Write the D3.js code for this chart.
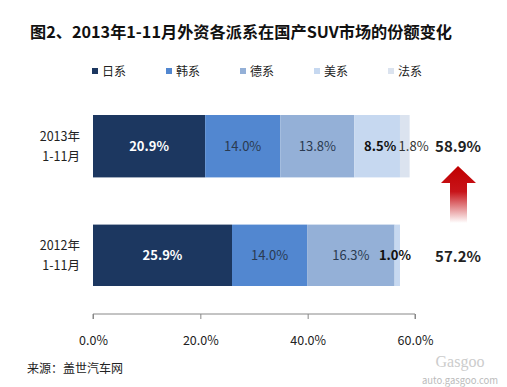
<!DOCTYPE html>
<html><head><meta charset="utf-8">
<script src="https://cdn.jsdelivr.net/npm/d3@7/dist/d3.min.js"></script>
<style>body{margin:0;background:#fff}svg{display:block}</style>
</head><body>
<script>
const title = "图2、2013年1-11月外资各派系在国产SUV市场的份额变化";
const series = ["日系","韩系","德系","美系","法系"];
const colors = ["#1c3760","#5287d0","#94b0d7","#c6d8f0","#dbe3ef"];
const categories = [["2013年","1-11月"],["2012年","1-11月"]];
const values2013 = [20.9,14.0,13.8,8.5,1.8];
const values2012 = [25.9,14.0,16.3,1.0,0];
const labels2013 = ["20.9%","14.0%","13.8%","8.5%","1.8%"];
const labels2012 = ["25.9%","14.0%","16.3%","1.0%",""];
const totals = ["58.9%","57.2%"];
const ticks = [0,20,40,60];
const source = "来源：盖世汽车网";

const W=507,H=387;
const svg=d3.select("body").append("svg").attr("width",W).attr("height",H);
const font="'Noto Sans CJK SC','Noto Sans',sans-serif";
svg.style("font-family",font);

const x=d3.scaleLinear().domain([0,60]).range([93,415]);
const y=d3.scaleBand().domain([0,1]).range([113,283]).paddingInner(0.42).paddingOuter(0);

svg.append("text").attr("x",30).attr("y",38).attr("font-size",16.2).attr("font-weight","bold").attr("fill","#111").text(title);

// legend
const lg=svg.append("g");
series.forEach((s,i)=>{
  const lx=92+i*74;
  lg.append("rect").attr("x",lx).attr("y",68).attr("width",6).attr("height",6).attr("fill",colors[i]);
  lg.append("text").attr("x",lx+10).attr("y",76).attr("font-size",12).attr("fill","#222").text(s);
});

const rows=[{v:values2013,l:labels2013},{v:values2012,l:labels2012}];
const labelStyle=[
  {fill:"#fff",w:"bold"},{fill:"#2a3a50",w:"normal"},{fill:"#2a3a50",w:"normal"},{fill:"#111",w:"bold"},{fill:"#333",w:"normal"}
];
rows.forEach((r,ri)=>{
  let cum=0;
  const by=y(ri)+ (ri===0?2:4), bh=y.bandwidth()-(ri===0?0:1);
  r.v.forEach((v,i)=>{
    const x0=x(cum),x1=x(cum+v);
    if(v>0) svg.append("rect").attr("x",x0).attr("y",by).attr("width",x1-x0).attr("height",bh).attr("fill",colors[i]);
    if(r.l[i]){
      let cx=(x0+x1)/2;
      if(ri===0&&i===4) cx=x1+4;
      if(ri===0&&i===3) cx+=3;
      if(ri===1&&i===3) cx=x1-5;
      svg.append("text").attr("x",cx).attr("y",by+bh/2+5).attr("text-anchor","middle")
        .attr("font-size",13).attr("font-weight",labelStyle[i].w)
        .attr("fill",(ri===1&&i===3)?"#111":labelStyle[i].fill).text(r.l[i]);
    }
    cum+=v;
  });
  // category labels
  const cy=by+bh/2;
  svg.append("text").attr("x",80).attr("y",cy-5).attr("text-anchor","end").attr("font-size",12.5).attr("fill","#222").style("font-family",font).text(categories[ri][0]);
  svg.append("text").attr("x",80).attr("y",cy+15).attr("text-anchor","end").attr("font-size",12.5).attr("fill","#222").style("font-family",font).text(categories[ri][1]);
  svg.append("text").attr("x",458).attr("y",cy+(ri===0?6:7)).attr("text-anchor","middle").attr("font-size",15)
    .attr("font-weight","bold").attr("fill","#222").text(totals[ri]);
});

// arrow
const defs=svg.append("defs");
const gr=defs.append("linearGradient").attr("id","ag").attr("x1",0).attr("y1",0).attr("x2",0).attr("y2",1);
gr.append("stop").attr("offset","0%").attr("stop-color","#c00000");
gr.append("stop").attr("offset","45%").attr("stop-color","#c8141a");
gr.append("stop").attr("offset","100%").attr("stop-color","#fff").attr("stop-opacity",1);
svg.append("path").attr("d","M458,166 L476,183 L467,183 L467,223 L450,223 L450,183 L441,183 Z").attr("fill","url(#ag)");

// axis
const ax=svg.append("g").attr("transform","translate(0,314)")
  .call(d3.axisBottom(x).tickValues(ticks).tickSize(5).tickFormat(d=>d.toFixed(1)+"%"));
ax.select(".domain").attr("stroke","#888").attr("d","M93,5V0H415V5");
ax.selectAll(".tick line").attr("stroke","#888").attr("y2",5);
ax.selectAll(".tick text").attr("font-size",12.5).attr("fill","#222").attr("dy",0).attr("y",31).style("font-family",font);

svg.append("text").attr("x",27).attr("y",373).attr("font-size",12).attr("fill","#222").text(source);
// watermark
svg.append("text").attr("x",460).attr("y",367).attr("text-anchor","middle").attr("font-size",16).attr("fill","#ccc").attr("font-family","'Liberation Serif',serif").text("Gasgoo");
svg.append("text").attr("x",460).attr("y",384).attr("text-anchor","middle").attr("font-size",9.5).attr("fill","#bbb").text("auto.gasgoo.com");
</script>
</body></html>
